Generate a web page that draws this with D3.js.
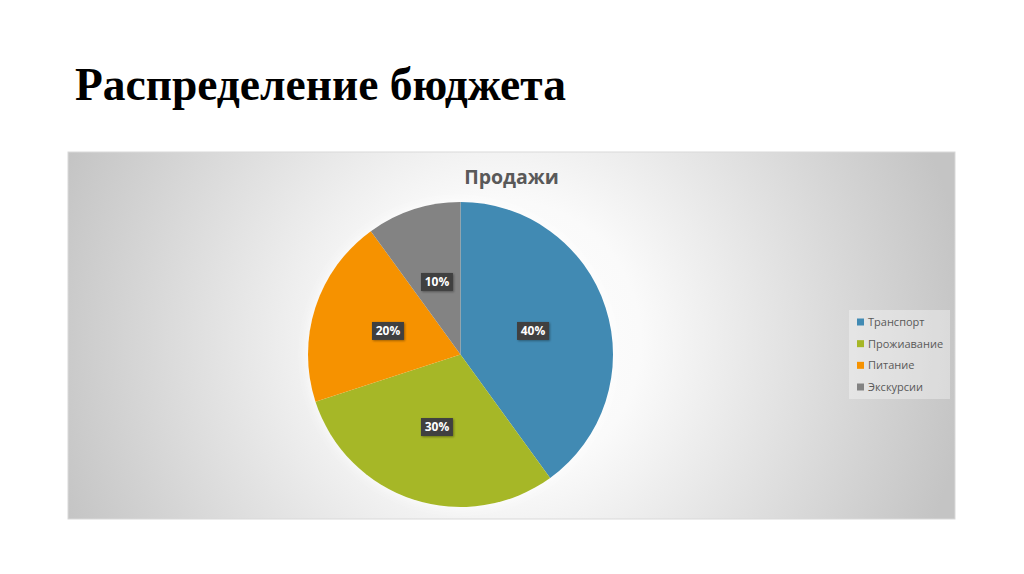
<!DOCTYPE html>
<html><head><meta charset="utf-8">
<script src="https://cdn.jsdelivr.net/npm/d3@7"></script>
<style>html,body{margin:0;padding:0;background:#fff;}svg{display:block;}</style>
</head><body>
<svg id="c" width="1024" height="574"></svg>
<script>
const pageTitle = "Распределение бюджета";
const chartTitle = "Продажи";
const categories = ["Транспорт", "Прожиавание", "Питание", "Экскурсии"];
const values = [40, 30, 20, 10];
const colors = ["#418AB3", "#A6B727", "#F69200", "#838383"];

const svg = d3.select("#c");
const defs = svg.append("defs");
const grad = defs.append("radialGradient").attr("id", "bg")
  .attr("gradientUnits", "userSpaceOnUse")
  .attr("cx", 500).attr("cy", 340).attr("r", 470);
grad.append("stop").attr("offset", 0).attr("stop-color", "#ffffff");
grad.append("stop").attr("offset", 0.3).attr("stop-color", "#fafafa");
grad.append("stop").attr("offset", 1).attr("stop-color", "#c4c4c4");
const shadow = defs.append("filter").attr("id", "sh").attr("x", "-30%").attr("y", "-30%").attr("width", "160%").attr("height", "160%");
shadow.append("feDropShadow").attr("dx", 1).attr("dy", 1).attr("stdDeviation", 1.2).attr("flood-color", "#000").attr("flood-opacity", 0.35);
const pieSh = defs.append("filter").attr("id", "psh").attr("x", "-20%").attr("y", "-20%").attr("width", "140%").attr("height", "140%");
pieSh.append("feDropShadow").attr("dx", 0).attr("dy", 0).attr("stdDeviation", 6).attr("flood-color", "#ffffff").attr("flood-opacity", 0.9);

svg.append("text").attr("x", 75).attr("y", 100)
  .attr("font-family", "Liberation Serif, Times New Roman, serif")
  .attr("font-weight", "bold").attr("font-size", 45.5).attr("fill", "#000")
  .text(pageTitle);

const frame = {x: 68, y: 152, w: 887, h: 367};
svg.append("rect").attr("x", frame.x).attr("y", frame.y).attr("width", frame.w).attr("height", frame.h)
  .attr("fill", "url(#bg)").attr("stroke", "#d9d9d9").attr("stroke-width", 1);

svg.append("text").attr("x", frame.x + frame.w / 2).attr("y", 183.5)
  .attr("text-anchor", "middle").attr("font-family", "Open Sans, sans-serif")
  .attr("font-weight", "bold").attr("font-size", 19.5).attr("fill", "#595959")
  .text(chartTitle);

const cx = 460.5, cy = 354.5, r = 152.5;
const data = categories.map((c, i) => ({cat: c, value: values[i], color: colors[i]}));
const pie = d3.pie().value(d => d.value).sort(null);
const arc = d3.arc().innerRadius(0).outerRadius(r);
const arcs = pie(data);
const total = d3.sum(values);
const g = svg.append("g").attr("transform", `translate(${cx},${cy})`);
g.append("circle").attr("r", r).attr("fill", "#fff").attr("filter", "url(#psh)");
g.selectAll("path.s").data(arcs).join("path").attr("class", "s")
  .attr("d", arc).attr("fill", d => d.data.color);

const lab = g.selectAll("g.l").data(arcs).join("g").attr("class", "l")
  .attr("transform", d => `translate(${arc.centroid(d)})`);
lab.append("rect").attr("x", -16).attr("y", -9).attr("width", 32).attr("height", 18)
  .attr("fill", "#404040").attr("filter", "url(#sh)");
lab.append("text").attr("text-anchor", "middle").attr("dy", "0.36em")
  .attr("font-family", "Open Sans, sans-serif").attr("font-weight", "bold")
  .attr("font-size", 12).attr("fill", "#fff")
  .text(d => Math.round(d.data.value / total * 100) + "%");

const lg = svg.append("g");
lg.append("rect").attr("x", 849).attr("y", 310).attr("width", 101).attr("height", 89)
  .attr("fill", "#ffffff").attr("fill-opacity", 0.35);
const rowY = d3.scalePoint().domain(categories).range([322, 387]);
const items = lg.selectAll("g.i").data(data).join("g").attr("class", "i")
  .attr("transform", d => `translate(857,${rowY(d.cat)})`);
items.append("rect").attr("x", 0).attr("y", -3.5).attr("width", 7).attr("height", 7).attr("fill", d => d.color);
items.append("text").attr("x", 11).attr("dy", "0.35em")
  .attr("font-family", "Open Sans, sans-serif").attr("font-size", 11).attr("fill", "#595959")
  .text(d => d.cat);
</script>
</body></html>
